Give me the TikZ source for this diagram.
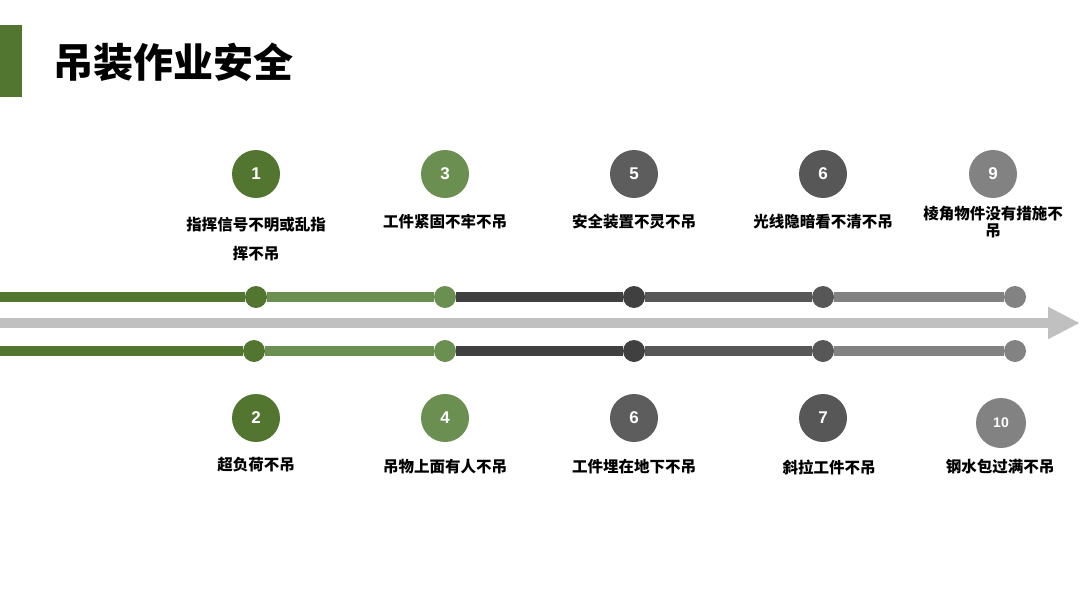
\documentclass[tikz,border=0pt]{standalone}
\usepackage{fontspec}
\setmainfont{Noto Sans CJK SC}
\newfontfamily\numfont{Liberation Sans}
\usetikzlibrary{arrows.meta}
\definecolor{greenA}{HTML}{52762F}
\definecolor{greenB}{HTML}{6A8F50}
\definecolor{greyA}{HTML}{404040}
\definecolor{greyB}{HTML}{575757}
\definecolor{greyC}{HTML}{828282}
\definecolor{railgrey}{HTML}{C0C0C0}
\tikzset{
	dot/.style={circle, fill=#1, minimum size=22pt, inner sep=0pt},
	badge/.style={circle, fill=#1, minimum size=48pt, inner sep=0pt, text=white, font=\numfont\bfseries\fontsize{17}{17}\selectfont},
	rule/.style={line width=10pt, draw=#1},
	caption/.style={font=\bfseries\fontsize{15.5}{29}\selectfont, align=center, text=black},
}
\begin{document}
\begin{tikzpicture}[x=1pt, y=-1pt]
	\useasboundingbox[fill=white] (0,0) rectangle (1080,608);
	% Title and side bar:
	\fill[greenA] (0,25) rectangle (22,97);
	\node[anchor=west, font=\bfseries\fontsize{40}{40}\selectfont] (title) at (50,62) {吊装作业安全};
	% Middle arrow:
	\coordinate (mid0) at (0,323);
	\coordinate (mid1) at (1080,323);
	\draw[line width=10pt, draw=railgrey, -{Triangle[length=32pt, width=30pt]}] (mid0) -- (mid1);
	% Top rail:
	\coordinate (top0) at (0,297);
	\node[dot=greenA] (top1) at (256,297){};
	\node[dot=greenB] (top3) at (445,297){};
	\node[dot=greyA] (top5) at (634,297){};
	\node[dot=greyB] (top6) at (823,297){};
	\node[dot=greyC] (top9) at (1015,297){};
	\draw[rule=greenA] (top0) -- (top1);
	\draw[rule=greenB] (top1) -- (top3);
	\draw[rule=greyA] (top3) -- (top5);
	\draw[rule=greyB] (top5) -- (top6);
	\draw[rule=greyC] (top6) -- (top9);
	% Bottom rail:
	\coordinate (bot0) at (0,351);
	\node[dot=greenA] (bot2) at (254,351){};
	\node[dot=greenB] (bot4) at (445,351){};
	\node[dot=greyA] (bot6) at (634,351){};
	\node[dot=greyB] (bot7) at (823,351){};
	\node[dot=greyC] (bot10) at (1015,351){};
	\draw[rule=greenA] (bot0) -- (bot2);
	\draw[rule=greenB] (bot2) -- (bot4);
	\draw[rule=greyA] (bot4) -- (bot6);
	\draw[rule=greyB] (bot6) -- (bot7);
	\draw[rule=greyC] (bot7) -- (bot10);
	% Top badges and captions:
	\node[badge=greenA] (n1) at (256,174) {1};
	\node[badge=greenB] (n3) at (445,174) {3};
	\node[badge=greyA!85!white] (n5) at (634,174) {5};
	\node[badge=greyB] (n6a) at (823,174) {6};
	\node[badge=greyC] (n9) at (993,174) {9};
	\node[caption, anchor=north] (c1) at (256,214) {指挥信号不明或乱指\\挥不吊};
	\node[caption, anchor=north] (c3) at (445,211) {工件紧固不牢不吊};
	\node[caption, anchor=north] (c5) at (634,211) {安全装置不灵不吊};
	\node[caption, anchor=north] (c6a) at (823,211) {光线隐暗看不清不吊};
	\node[caption, anchor=north, font=\bfseries\fontsize{15.5}{16.5}\selectfont] (c9) at (993,203) {棱角物件没有措施不\\吊};
	% Bottom badges and captions:
	\node[badge=greenA] (n2) at (256,418) {2};
	\node[badge=greenB] (n4) at (445,418) {4};
	\node[badge=greyA!85!white] (n6b) at (634,418) {6};
	\node[badge=greyB] (n7) at (823,418) {7};
	\node[badge=greyC, minimum size=50pt, font=\numfont\bfseries\fontsize{14}{14}\selectfont] (n10) at (1001,423) {10};
	\node[caption, anchor=north] (c2) at (256,454) {超负荷不吊};
	\node[caption, anchor=north] (c4) at (445,456) {吊物上面有人不吊};
	\node[caption, anchor=north] (c6b) at (634,456) {工件埋在地下不吊};
	\node[caption, anchor=north] (c7) at (829,456) {斜拉工件不吊};
	\node[caption, anchor=north] (c10) at (1000,456) {钢水包过满不吊};
\end{tikzpicture}
\end{document}
